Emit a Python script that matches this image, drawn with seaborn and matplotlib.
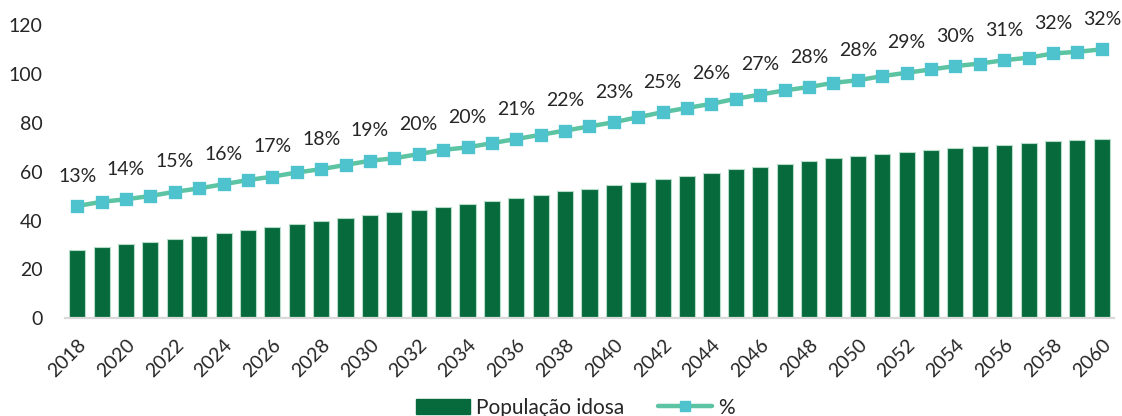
import matplotlib
matplotlib.use("Agg")
import matplotlib.pyplot as plt
from matplotlib.patches import Patch
from matplotlib.lines import Line2D
import pandas as pd
import seaborn as sns

# Projected elderly population (millions) and its share of the total population
years = list(range(2018, 2061))
populacao_idosa = [
    28.0, 29.2, 30.3, 31.4, 32.6, 33.7, 34.8, 36.2, 37.4, 38.5,
    39.8, 40.9, 42.2, 43.4, 44.5, 45.6, 46.8, 48.0, 49.3, 50.5,
    51.9, 53.1, 54.5, 55.7, 57.0, 58.4, 59.6, 60.9, 62.1, 63.2,
    64.3, 65.4, 66.3, 67.3, 68.0, 68.8, 69.5, 70.4, 71.0, 71.7,
    72.5, 73.0, 73.4,
]
percentual = [
    0.134, 0.139, 0.142, 0.146, 0.151, 0.155, 0.160, 0.165, 0.169, 0.174,
    0.178, 0.183, 0.188, 0.191, 0.196, 0.201, 0.204, 0.209, 0.214, 0.219,
    0.224, 0.229, 0.234, 0.240, 0.246, 0.251, 0.256, 0.262, 0.267, 0.272,
    0.276, 0.281, 0.284, 0.289, 0.293, 0.297, 0.301, 0.304, 0.308, 0.311,
    0.316, 0.318, 0.321,
]
y_ticks = [0, 20, 40, 60, 80, 100, 120]

df = pd.DataFrame({"ano": [str(y) for y in years],
                   "pop": populacao_idosa,
                   "pct": percentual})

BAR = "#066A3C"
LINE = "#5CC4A2"
MARK = "#4EC3CE"
TEXT = "#262626"
FS = 14

sns.set_theme(style="white")
plt.rcParams["font.family"] = ["Lato", "DejaVu Sans"]
plt.rcParams["text.color"] = TEXT

fig = plt.figure(figsize=(11.22, 4.16), dpi=100)
ax = fig.add_axes([65 / 1122, 1 - 318.3 / 416, (1114 - 65) / 1122, 293.3 / 416])

sns.barplot(data=df, x="ano", y="pop", ax=ax, color=BAR, width=0.66,
            edgecolor="#b5dcc8", linewidth=0.8, saturation=1)

ax2 = ax.twinx()
sns.pointplot(data=df, x="ano", y="pct", ax=ax2, color=LINE, markers="s",
              linestyles="-", errorbar=None, linewidth=3.2,
              markerfacecolor=MARK, markeredgecolor=MARK, markersize=7.8)
ax2.set_ylim(0, 0.35)
ax2.set_yticks([])
ax2.set_ylabel("")
for s in ax2.spines.values():
    s.set_visible(False)

# percentage labels on every other year
for i, p in enumerate(percentual):
    if i % 2 == 0:
        ax2.annotate(f"{p:.0%}", (i, p), xytext=(0, 21.5), textcoords="offset points",
                     ha="center", va="center", fontsize=FS, color=TEXT,
                     annotation_clip=False)

ax.set_ylim(0, 120)
ax.set_xlim(-0.5, len(years) - 0.5)
ax.set_yticks(y_ticks)
ax.set_yticklabels([str(t) for t in y_ticks], fontsize=FS, color=TEXT)
ax.tick_params(axis="y", length=0, pad=16)

tick_pos = list(range(0, len(years), 2))
ax.set_xticks(tick_pos)
ax.set_xticklabels([str(years[i]) for i in tick_pos], fontsize=FS, color=TEXT,
                   rotation=45, ha="right", rotation_mode="anchor")
ax.tick_params(axis="x", length=0, pad=13)
ax.set_xlabel("")
ax.set_ylabel("")

for side in ["left", "right", "top"]:
    ax.spines[side].set_visible(False)
ax.spines["bottom"].set_color("#d9d9d9")
ax.spines["bottom"].set_linewidth(1.6)
ax.grid(False)

handles = [
    Patch(facecolor=BAR, edgecolor=BAR, label="População idosa"),
    Line2D([0], [0], color=LINE, lw=3.2, marker="s", markersize=7.8,
           markerfacecolor=MARK, markeredgecolor=MARK, label="%"),
]
fig.legend(handles=handles, loc="center", bbox_to_anchor=(0.513, 0.02),
           ncol=2, frameon=False, fontsize=15, handlelength=2.6,
           handleheight=0.7, columnspacing=1.6, handletextpad=0.3)

fig.savefig("out.png", dpi=100)
